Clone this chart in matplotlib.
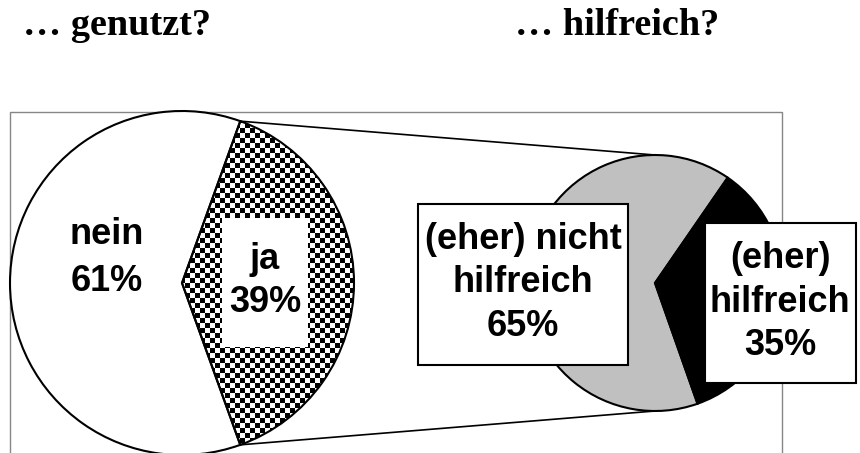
import numpy as np
import matplotlib
matplotlib.use('Agg')
import matplotlib.pyplot as plt
from matplotlib.patches import Rectangle

# ---- data ----
usage_labels = ['nein', 'ja']
usage_values = [61, 39]
help_labels = ['(eher) nicht\nhilfreich', '(eher)\nhilfreich']
help_values = [65, 35]
titles = ['… genutzt?', '… hilfreich?']

# ---- layout (pixel space) ----
W, H = 860, 453
fig = plt.figure(figsize=(8.6, 4.53), dpi=100)
ax = fig.add_axes([0, 0, 1, 1])

def py(y):
    return H - y

c1, r1 = (182, py(283)), 172
c2, r2 = (655, py(283)), 128

# plot-area frame
ax.add_patch(Rectangle((10, -10), 772, py(112) + 10, fill=False,
                       edgecolor='#868686', linewidth=1.0, zorder=0))

# left pie: "ja" slice centred on the right side
half_ja = 360 * usage_values[1] / sum(usage_values) / 2
w1, _ = ax.pie(usage_values, colors=['white', 'none'], startangle=half_ja,
               center=c1, radius=r1, frame=True,
               wedgeprops=dict(edgecolor='black', linewidth=1.5))
for w in w1:
    w.set_zorder(3)
w1[1].set_facecolor('none')

# checkerboard texture for the "ja" slice
cell = 5
nx, ny = W // cell + 2, H // cell + 2
chk = (np.indices((ny, nx)).sum(axis=0) % 2).astype(float)
im = ax.imshow(chk, cmap='gray', extent=(0, nx * cell, 0, ny * cell),
               interpolation='nearest', origin='lower', zorder=2.5,
               aspect='auto')
im.set_clip_path(w1[1])

# right pie
w2, _ = ax.pie(help_values, colors=['#c0c0c0', 'black'], startangle=55.4,
               center=c2, radius=r2, frame=True,
               wedgeprops=dict(edgecolor='black', linewidth=1.5))
for w in w2:
    w.set_zorder(3)

# connector lines
th = np.deg2rad(half_ja)
for s in (1, -1):
    x0 = c1[0] + r1 * np.cos(th)
    y0 = c1[1] + s * r1 * np.sin(th)
    ax.plot([x0, c2[0]], [y0, c2[1] + s * r2], color='black',
            linewidth=1.2, zorder=1)

# label boxes
ax.add_patch(Rectangle((222, py(347)), 86, 129, facecolor='white',
                       edgecolor='none', zorder=4))
ax.add_patch(Rectangle((418, py(365)), 210, 161, facecolor='white',
                       edgecolor='black', linewidth=1.5, zorder=4))
ax.add_patch(Rectangle((705, py(383)), 151, 160, facecolor='white',
                       edgecolor='black', linewidth=1.5, zorder=4))

tkw = dict(ha='center', va='center', fontsize=26, fontweight='bold',
           family='Liberation Sans', zorder=5, multialignment='center')

def pct(v, vals):
    return f'{round(100 * v / sum(vals))}%'

ax.text(107, py(258), f'{usage_labels[0]}\n{pct(usage_values[0], usage_values)}',
        linespacing=1.45, **tkw)
ax.text(265, py(281), f'{usage_labels[1]}\n{pct(usage_values[1], usage_values)}',
        linespacing=1.3, **tkw)
ax.text(523, py(283), f'{help_labels[0]}\n{pct(help_values[0], help_values)}',
        linespacing=1.3, **tkw)
ax.text(780, py(302), f'{help_labels[1]}\n{pct(help_values[1], help_values)}',
        linespacing=1.3, **tkw)

# titles
for x, t in zip([23, 515], titles):
    ax.text(x, py(35), t, ha='left', va='baseline', fontsize=27.5,
            fontweight='bold', family='Liberation Serif', zorder=5)

ax.set_xlim(0, W)
ax.set_ylim(0, H)
ax.set_aspect('auto')
ax.axis('off')
fig.savefig('out.png', dpi=100)
